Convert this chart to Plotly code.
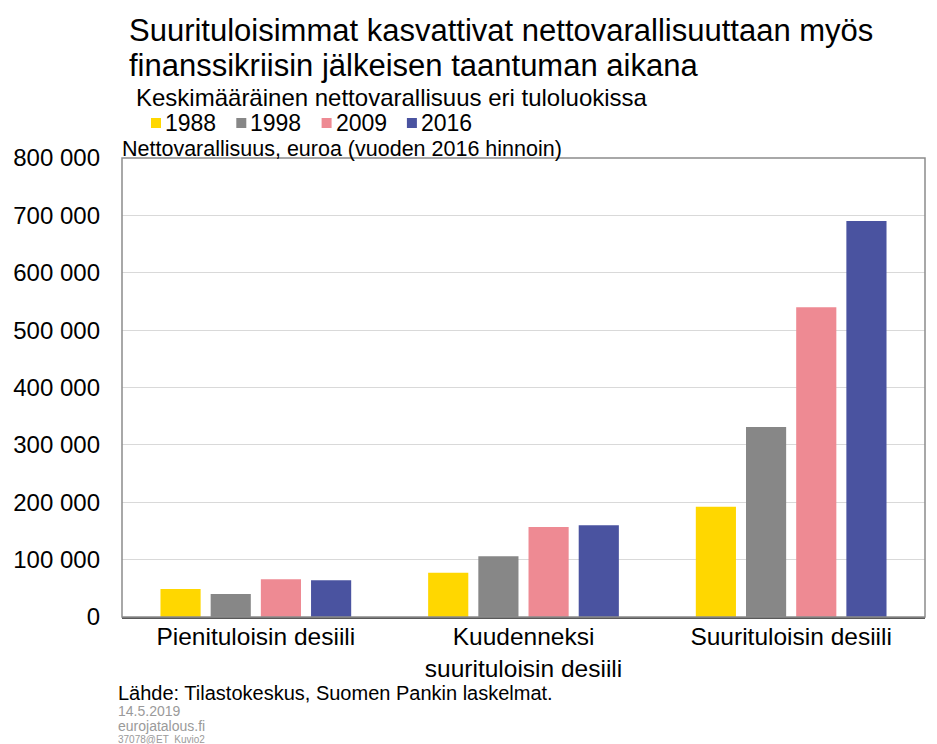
import plotly.graph_objects as go

categories = ["Pienituloisin desiili", "Kuudenneksi<br>suurituloisin desiili", "Suurituloisin desiili"]
years = ["1988", "1998", "2009", "2016"]
v1988 = [49000, 77000, 192000]
v1998 = [40000, 106000, 331000]
v2009 = [66000, 157000, 540000]
v2016 = [64000, 160000, 690000]
series = [v1988, v1998, v2009, v2016]
colors = ["#FFD700", "#878787", "#EE8A93", "#4A53A0"]
tick_vals = [0, 100000, 200000, 300000, 400000, 500000, 600000, 700000, 800000]
tick_text = ["0", "100 000", "200 000", "300 000", "400 000", "500 000", "600 000", "700 000", "800 000"]

FONT = "Liberation Sans, Arial, sans-serif"

fig = go.Figure()
for name, vals, col in zip(years, series, colors):
    fig.add_trace(go.Bar(x=categories, y=vals, name=name, marker=dict(color=col, line=dict(width=0))))

px = lambda X: (X - 122) / 803.0
py = lambda Y: (617 - Y) / 459.0

fig.update_layout(
    width=937, height=744,
    margin=dict(l=122, r=12, t=158, b=127),
    paper_bgcolor="white", plot_bgcolor="white",
    font=dict(family=FONT, color="black"),
    barmode="group", bargap=0.25, bargroupgap=0.2,
    showlegend=False,
    xaxis=dict(showline=True, linecolor="#595959", linewidth=2, mirror=False,
               tickfont=dict(size=24.5, family=FONT), ticks="", showgrid=False,
               ticklabelstandoff=-3),
    yaxis=dict(range=[0, 800000], tickvals=tick_vals, ticktext=tick_text,
               tickfont=dict(size=24, family=FONT), showgrid=True, gridcolor="#D9D9D9",
               gridwidth=1, zeroline=False, showline=False, ticks="", ticklabelstandoff=21),
)

# plot area border (left, top, right)
fig.add_shape(type="rect", xref="paper", yref="paper", x0=0, y0=0, x1=1, y1=1,
              line=dict(color="#8C8C8C", width=1.5), fillcolor="rgba(0,0,0,0)", layer="above")

def ann(text, x, y, size, color="black", anchor="left"):
    fig.add_annotation(text=text, xref="paper", yref="paper", x=x, y=y,
                       xanchor=anchor, yanchor="middle", showarrow=False,
                       font=dict(size=size, color=color, family=FONT), align="left")

ann("Suurituloisimmat kasvattivat nettovarallisuuttaan myös", px(127), py(30), 31)
ann("finanssikriisin jälkeisen taantuman aikana", px(127), py(65), 31)
ann("Keskimääräinen nettovarallisuus eri tuloluokissa", px(134), py(97), 24)
ann("Nettovarallisuus, euroa (vuoden 2016 hinnoin)", px(120), py(149), 21.5)
ann("Lähde: Tilastokeskus, Suomen Pankin laskelmat.", px(116), py(693), 20)
ann("14.5.2019", px(116), py(711), 14, "#9A9A9A")
ann("eurojatalous.fi", px(116), py(726), 14, "#9A9A9A")
ann("37078@ET_Kuvio2", px(116), py(739), 10, "#9A9A9A")

# legend (small squares + labels), built from years/colors
for i, (name, col) in enumerate(zip(years, colors)):
    x0 = 151 + i * 85.3
    fig.add_shape(type="rect", xref="paper", yref="paper",
                  x0=px(x0), x1=px(x0 + 10), y0=py(128), y1=py(118),
                  fillcolor=col, line=dict(width=0))
    ann(name, px(x0 + 12), py(123), 23)

fig.write_html("out.html", config={"displayModeBar": False},
               post_script="document.body.style.margin='0';document.body.style.overflow='hidden';")
